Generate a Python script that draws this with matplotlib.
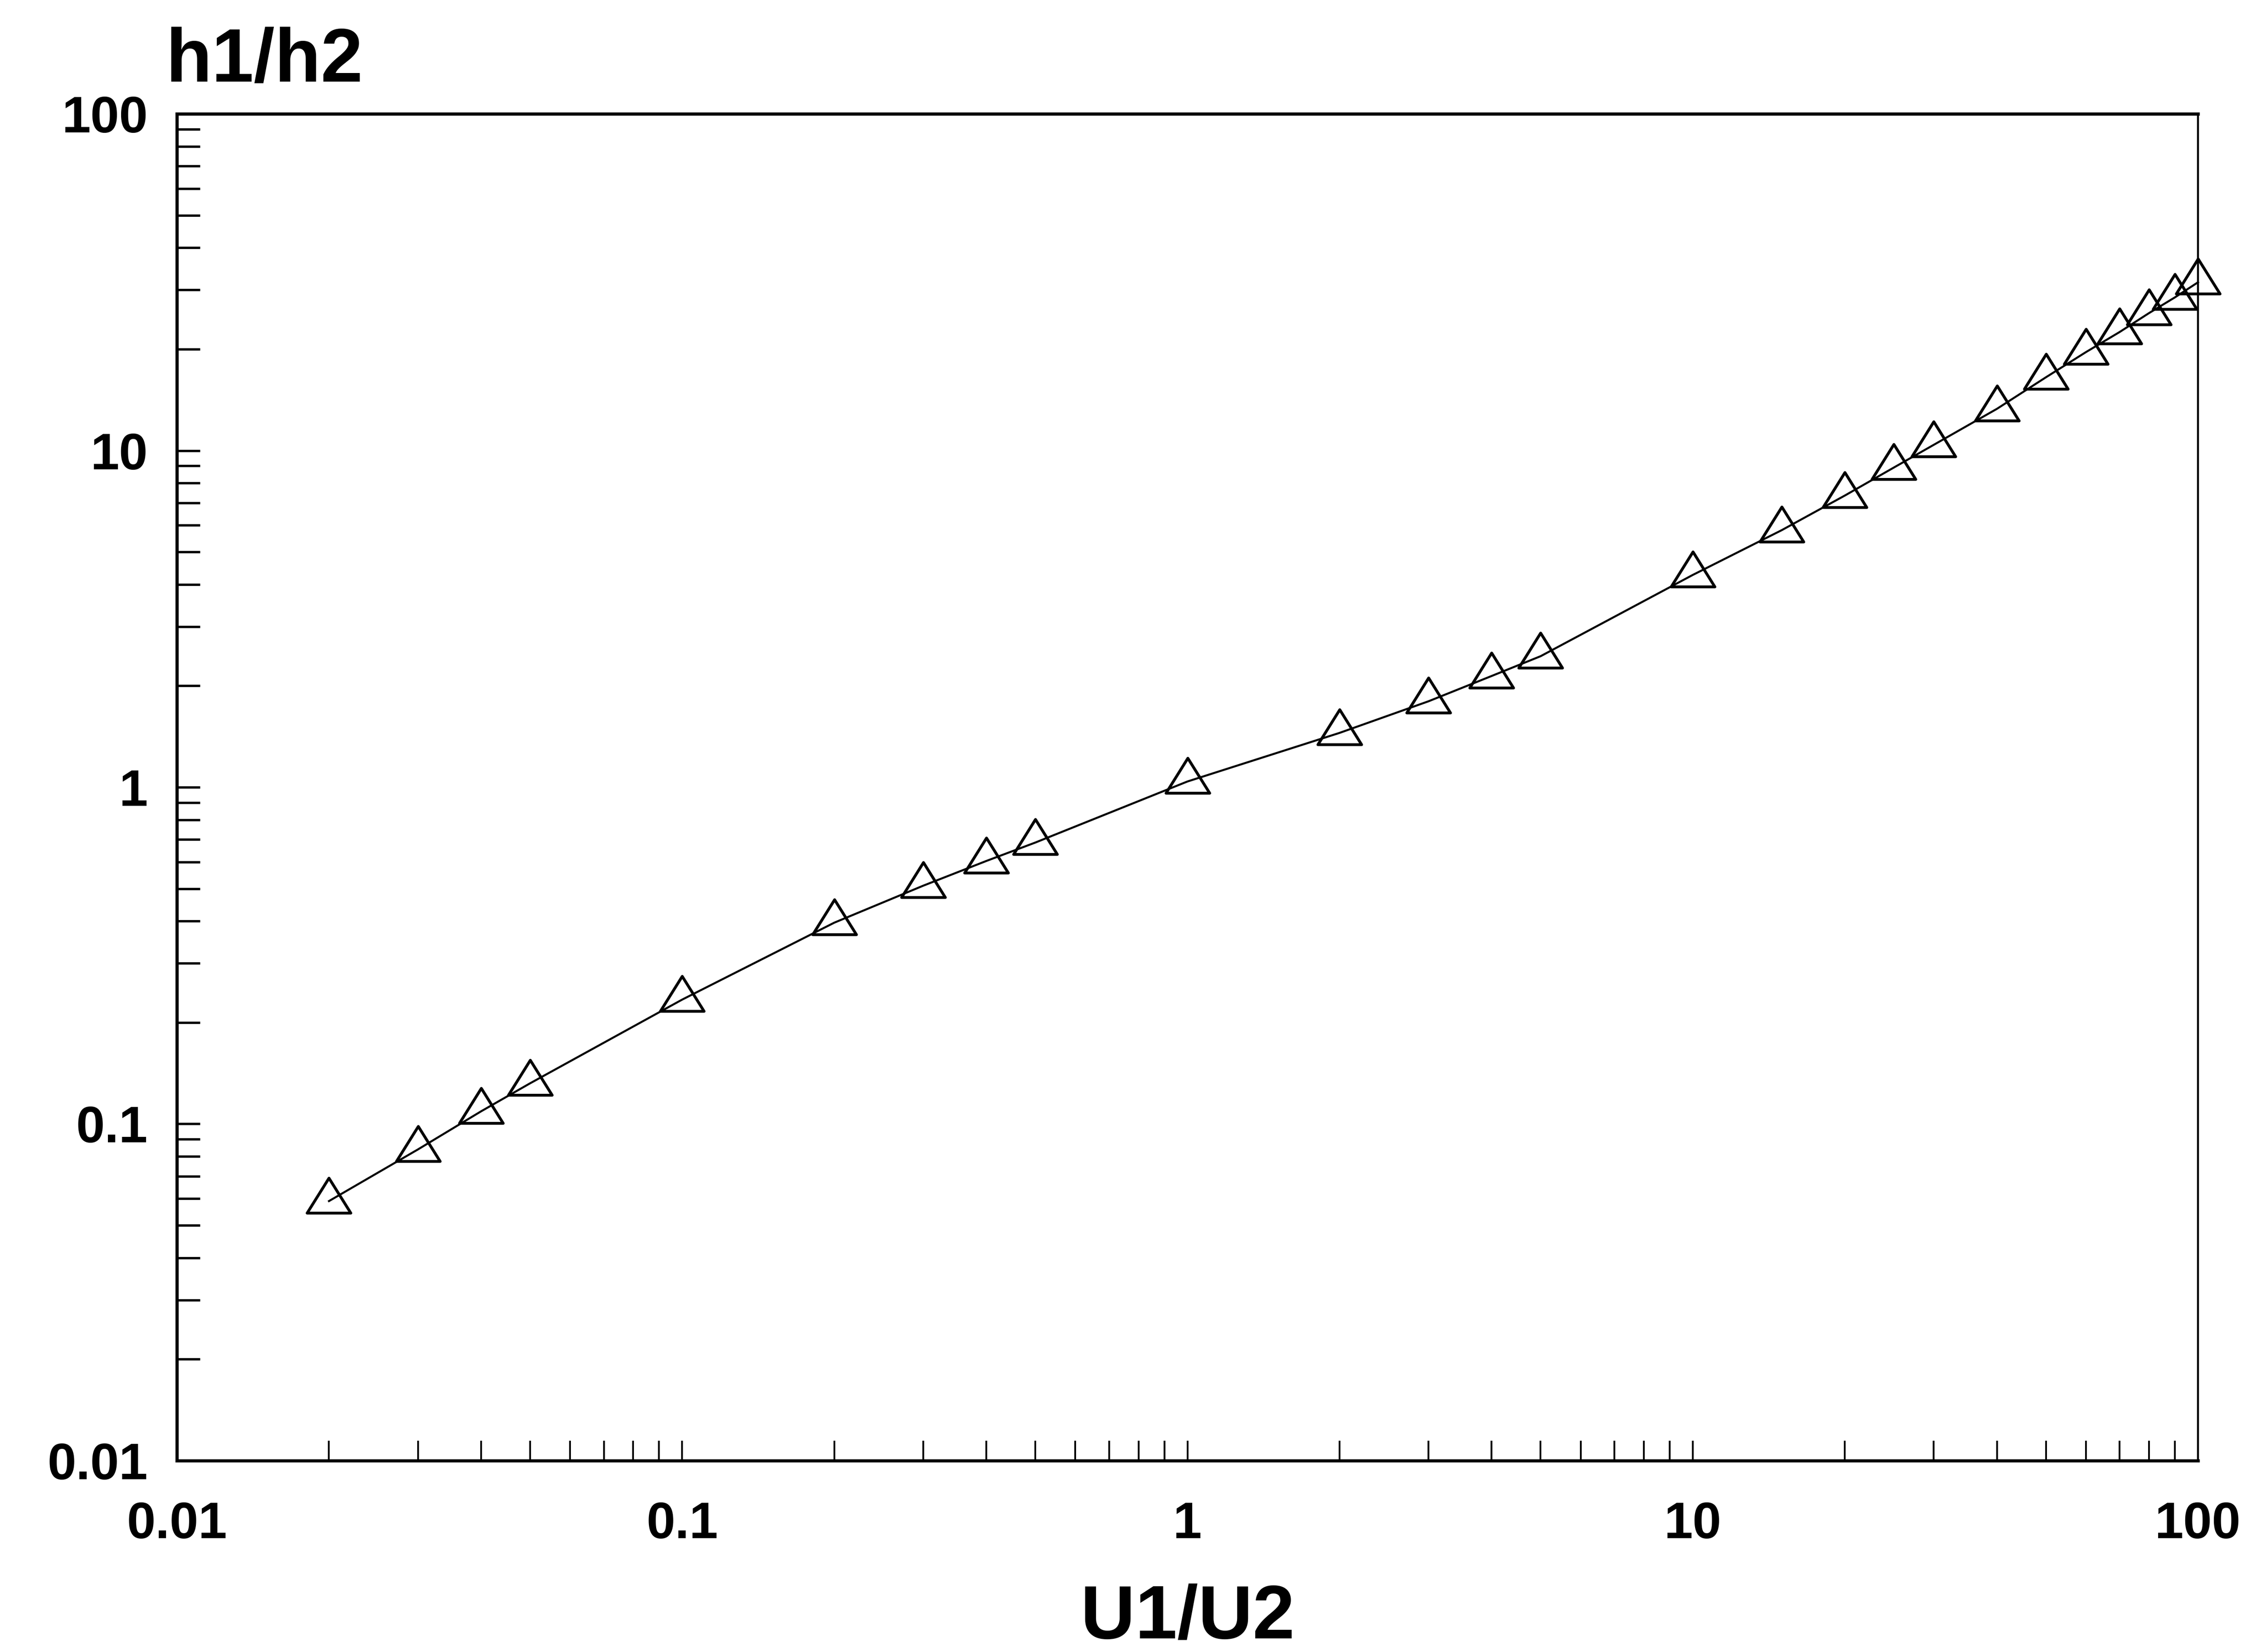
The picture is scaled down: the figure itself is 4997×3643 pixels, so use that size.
import matplotlib
matplotlib.use("Agg")
import matplotlib.pyplot as plt
from matplotlib.path import Path
from matplotlib.ticker import LogLocator, NullFormatter, FixedLocator, FixedFormatter

# Velocity ratio U1/U2 and resulting depth ratio h1/h2
u_ratio = [0.02, 0.03, 0.04, 0.05, 0.1, 0.2, 0.3, 0.4, 0.5,
           1, 2, 3, 4, 5, 10, 15, 20, 25, 30,
           40, 50, 60, 70, 80, 90, 100]
h_ratio = [0.059, 0.084, 0.109, 0.132, 0.234, 0.396, 0.51, 0.604, 0.685,
           1.04, 1.45, 1.80, 2.14, 2.45, 4.27, 5.80, 7.35, 8.90, 10.4,
           13.3, 16.5, 19.6, 22.5, 25.6, 28.5, 31.6]

decade_ticks = [0.01, 0.1, 1, 10, 100]
decade_labels = ["0.01", "0.1", "1", "10", "100"]

plt.rcParams["font.family"] = ["Liberation Sans", "DejaVu Sans"]
plt.rcParams["font.weight"] = "bold"

fig = plt.figure(figsize=(49.97, 36.43), dpi=100)
ax = fig.add_axes([0.07805, 0.11584, 0.89195, 0.81526])

# open triangle whose reference point is the centroid
tri = Path([(-1, -0.5333), (1, -0.5333), (0, 1.0667), (-1, -0.5333)],
           [Path.MOVETO, Path.LINETO, Path.LINETO, Path.CLOSEPOLY])

ax.plot(u_ratio, h_ratio, color="black", lw=3.2,
        marker=tri, ms=74, mfc="none", mec="black", mew=4.5,
        clip_on=False, zorder=3)

ax.set_xscale("log")
ax.set_yscale("log")
ax.set_xlim(0.01, 100)
ax.set_ylim(0.01, 100)

for axis in (ax.xaxis, ax.yaxis):
    axis.set_major_locator(FixedLocator(decade_ticks))
    axis.set_major_formatter(FixedFormatter(decade_labels))
    axis.set_minor_locator(LogLocator(base=10, subs=range(2, 10)))
    axis.set_minor_formatter(NullFormatter())

ax.tick_params(which="both", direction="in", top=False, right=False,
               labelsize=82, colors="black")
ax.tick_params(axis="x", which="both", length=32, width=2.8, pad=64)
ax.tick_params(axis="y", which="both", length=37, width=3.8, pad=46)

for side in ("left", "bottom", "top"):
    ax.spines[side].set_linewidth(5)
ax.spines["right"].set_linewidth(3.2)

ax.set_xlabel("U1/U2", fontsize=120, fontweight="bold")
ax.xaxis.set_label_coords(0.5, -0.091)
ax.xaxis.label.set_verticalalignment("top")

ax.text(-0.0056, 1.024, "h1/h2", transform=ax.transAxes,
        ha="left", va="baseline", fontsize=120, fontweight="bold")

fig.savefig("out.png", dpi=100, facecolor="white")
